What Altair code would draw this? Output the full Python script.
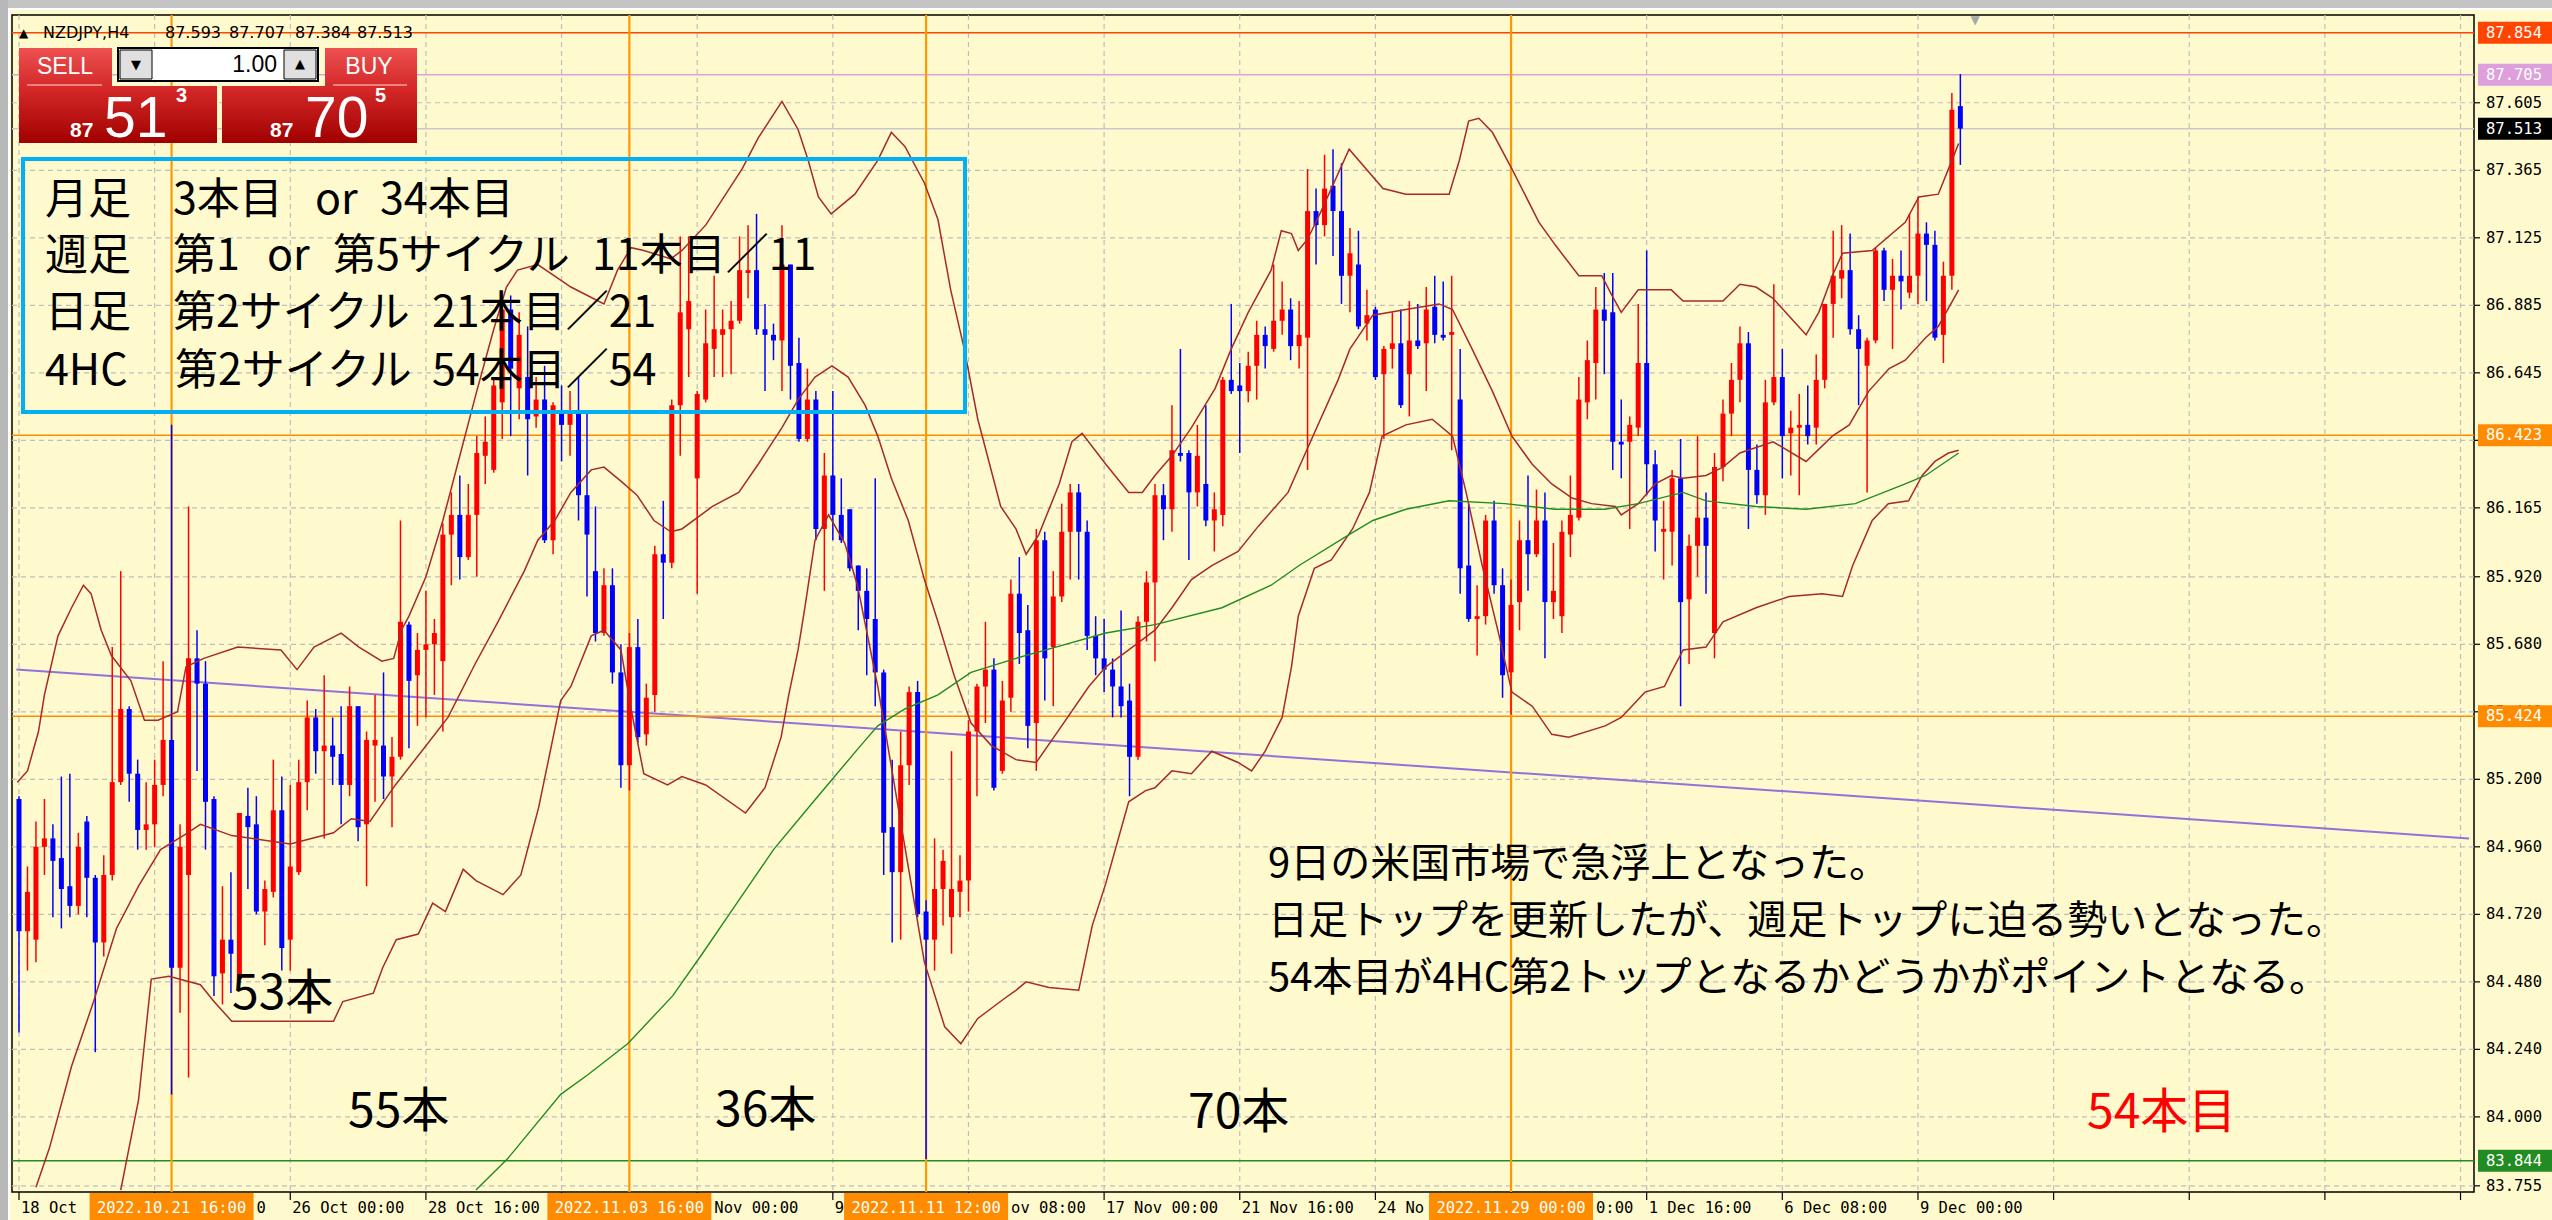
import altair as alt
import pandas as pd

# ---------------- data ----------------
opens = [
    85.13, 84.66, 84.63, 84.96, 84.99, 84.92, 84.82, 84.75, 85.05, 84.85,
    84.62, 84.86, 85.19, 85.45, 85.22, 85.02, 85.04, 85.18, 85.34, 84.53,
    84.86, 85.63, 85.54, 85.13, 84.51, 84.63, 84.49, 85.07, 85.04, 84.73,
    84.80, 85.09, 84.63, 84.87, 85.19, 85.42, 85.30, 85.32, 85.29, 85.18,
    85.46, 85.04, 85.32, 85.32, 85.21, 85.28, 85.75, 85.57, 85.66, 85.68,
    85.62, 86.07, 86.14, 85.99, 86.14, 86.35, 86.30, 86.54, 86.87, 86.59,
    86.63, 86.49, 86.55, 86.05, 86.50, 86.46, 86.50, 86.21, 85.94, 85.72,
    85.89, 85.58, 85.25, 85.67, 85.36, 85.50, 86.00, 85.97, 86.53, 86.80,
    86.27, 86.55, 86.73, 86.78, 86.80, 86.83, 87.00, 87.01, 86.80, 86.78,
    86.76, 87.03, 86.68, 86.41, 86.55, 86.09, 86.28, 86.14, 86.16, 85.96,
    85.87, 85.77, 85.58, 85.03, 84.87, 85.25, 85.51, 84.73, 84.63, 84.81,
    84.71, 84.80, 84.84, 85.37, 85.53, 85.59, 85.23, 85.49, 85.86, 85.73,
    85.40, 86.05, 85.67, 85.85, 86.08, 86.22, 86.08, 85.71, 85.63, 85.59,
    85.53, 85.48, 85.28, 85.76, 85.90, 86.21, 86.16, 86.36, 86.36, 86.22,
    86.25, 86.12, 86.14, 86.62, 86.60, 86.58, 86.67, 86.78, 86.73, 86.83,
    86.87, 86.74, 86.77, 87.22, 87.17, 87.31, 87.22, 86.99, 87.03, 86.82,
    86.87, 86.64, 86.73, 86.75, 86.64, 86.76, 86.75, 86.88, 86.78, 86.78,
    86.55, 85.96, 85.77, 85.78, 86.12, 85.89, 85.58, 85.83, 86.05, 86.00,
    86.12, 85.83, 85.78, 86.07, 86.13, 86.54, 86.68, 86.87, 86.86, 86.40,
    86.40, 86.45, 86.68, 86.32, 86.08, 86.08, 86.27, 85.84, 86.03, 86.13,
    85.72, 86.31, 86.50, 86.62, 86.75, 86.30, 86.21, 86.54, 86.63, 86.43,
    86.45, 86.46, 86.45, 86.62, 86.89, 86.98, 87.01, 86.80, 86.67, 86.76,
    87.08, 86.94, 86.99, 86.93, 86.99, 87.14, 87.10, 86.78, 86.99, 87.593,
]
highs = [
    85.14, 84.89, 85.05, 85.13, 85.04, 85.21, 85.22, 85.01, 85.07, 84.86,
    84.93, 85.67, 85.94, 85.46, 85.27, 85.19, 85.27, 85.62, 86.46, 85.04,
    86.17, 85.73, 85.62, 85.14, 84.82, 84.87, 85.08, 85.17, 85.14, 84.84,
    85.27, 85.21, 85.18, 85.27, 85.48, 85.45, 85.57, 85.42, 85.46, 85.53,
    85.46, 85.37, 85.50, 85.58, 85.35, 86.12, 85.76, 85.72, 85.87, 85.77,
    86.11, 86.22, 86.28, 86.25, 86.42, 86.49, 86.63, 86.90, 86.92, 86.86,
    86.81, 86.63, 86.67, 86.54, 86.60, 86.58, 86.63, 86.50, 86.17, 85.95,
    85.95, 85.68, 85.72, 85.77, 85.54, 86.03, 86.19, 86.55, 87.13, 87.13,
    86.58, 86.87, 86.99, 86.87, 86.90, 87.13, 87.17, 87.21, 86.89, 86.82,
    87.17, 87.03, 86.77, 86.66, 86.58, 86.36, 86.58, 86.27, 86.16, 85.96,
    85.95, 86.27, 85.59, 85.27, 85.37, 85.53, 85.55, 84.77, 84.99, 84.95,
    85.30, 84.93, 85.41, 85.54, 85.76, 85.63, 85.55, 85.91, 85.99, 85.82,
    86.09, 86.08, 85.94, 86.18, 86.25, 86.25, 86.12, 85.78, 85.77, 85.63,
    85.80, 85.54, 85.78, 85.94, 86.25, 86.25, 86.53, 86.73, 86.37, 86.46,
    86.53, 86.22, 86.63, 86.89, 86.68, 86.72, 86.83, 86.81, 87.03, 86.97,
    86.91, 86.90, 87.37, 87.30, 87.42, 87.44, 87.39, 87.16, 87.15, 86.94,
    86.88, 86.74, 86.86, 86.87, 86.90, 86.89, 86.95, 86.99, 86.97, 86.99,
    86.73, 86.18, 85.89, 86.14, 86.19, 85.95, 85.91, 86.12, 86.28, 86.23,
    86.22, 86.04, 86.12, 86.28, 86.63, 86.76, 86.95, 87.00, 87.00, 86.55,
    86.49, 86.89, 87.08, 86.37, 86.19, 86.30, 86.41, 86.07, 86.42, 86.22,
    86.36, 86.55, 86.68, 86.81, 86.79, 86.39, 86.62, 86.96, 86.73, 86.51,
    86.57, 86.60, 86.71, 86.89, 87.15, 87.17, 87.14, 86.85, 86.77, 87.09,
    87.09, 87.05, 87.08, 87.21, 87.27, 87.18, 87.15, 87.04, 87.64, 87.707,
]
lows = [
    84.30, 84.52, 84.55, 84.86, 84.71, 84.67, 84.71, 84.72, 84.71, 84.23,
    84.57, 84.84, 85.18, 85.12, 84.95, 84.95, 84.96, 85.14, 84.08, 84.37,
    84.14, 85.23, 84.95, 84.43, 84.40, 84.44, 84.48, 84.81, 84.72, 84.61,
    84.78, 84.52, 84.52, 84.86, 85.09, 85.22, 84.99, 85.18, 85.04, 85.14,
    84.98, 84.82, 85.12, 85.13, 85.03, 85.27, 85.31, 85.39, 85.42, 85.50,
    85.37, 85.89, 85.91, 85.98, 85.92, 86.25, 86.29, 86.41, 86.42, 86.48,
    86.28, 86.45, 86.04, 86.00, 86.33, 86.35, 86.12, 85.85, 85.69, 85.71,
    85.54, 85.17, 85.16, 85.33, 85.32, 85.44, 85.77, 85.95, 86.35, 86.63,
    85.86, 86.54, 86.63, 86.63, 86.64, 86.82, 86.91, 86.78, 86.58, 86.69,
    86.58, 86.55, 86.40, 86.40, 86.05, 85.87, 86.05, 86.04, 85.94, 85.73,
    85.57, 85.46, 84.86, 84.62, 84.63, 85.18, 84.71, 83.85, 84.52, 84.68,
    84.58, 84.71, 84.73, 85.14, 85.40, 85.16, 85.22, 85.44, 85.61, 85.31,
    85.23, 85.48, 85.46, 85.83, 85.91, 85.91, 85.66, 85.57, 85.51, 85.42,
    85.42, 85.14, 85.27, 85.69, 85.62, 86.05, 86.08, 86.33, 85.98, 86.17,
    86.10, 86.01, 86.10, 86.57, 86.36, 86.54, 86.55, 86.66, 86.72, 86.78,
    86.69, 86.66, 86.30, 87.03, 87.13, 87.06, 86.89, 86.86, 86.80, 86.76,
    86.62, 86.41, 86.66, 86.52, 86.49, 86.73, 86.58, 86.75, 86.76, 86.37,
    85.86, 85.76, 85.64, 85.75, 85.86, 85.49, 85.43, 85.73, 85.87, 85.99,
    85.63, 85.77, 85.72, 85.99, 86.12, 86.48, 86.55, 86.64, 86.30, 86.27,
    86.09, 86.42, 86.21, 86.01, 85.91, 85.96, 85.46, 85.61, 85.92, 85.86,
    85.63, 86.26, 86.42, 86.54, 86.09, 86.18, 86.14, 86.53, 86.27, 86.28,
    86.21, 86.39, 86.39, 86.59, 86.77, 86.91, 86.78, 86.53, 86.22, 86.75,
    86.90, 86.73, 86.87, 86.91, 86.89, 86.90, 86.76, 86.68, 86.94, 87.384,
]
closes = [
    84.66, 84.80, 84.96, 84.99, 84.91, 84.81, 84.75, 84.96, 84.85, 84.62,
    84.86, 85.19, 85.45, 85.22, 85.02, 85.04, 85.18, 85.34, 84.53, 84.96,
    85.63, 85.54, 85.12, 84.50, 84.63, 84.58, 85.08, 85.03, 84.73, 84.81,
    85.09, 84.60, 84.89, 85.19, 85.42, 85.30, 85.32, 85.28, 85.18, 85.46,
    85.03, 85.34, 85.34, 85.21, 85.28, 85.76, 85.55, 85.66, 85.68, 85.72,
    86.07, 86.14, 85.99, 86.14, 86.36, 86.40, 86.60, 86.87, 86.66, 86.78,
    86.48, 86.55, 86.05, 86.53, 86.46, 86.50, 86.21, 86.07, 85.72, 85.89,
    85.58, 85.25, 85.67, 85.35, 85.49, 86.00, 85.97, 86.53, 86.86, 86.90,
    86.57, 86.75, 86.80, 86.80, 86.83, 87.01, 87.01, 86.80, 86.78, 86.76,
    87.03, 86.67, 86.41, 86.55, 86.09, 86.28, 86.14, 86.05, 85.95, 85.87,
    85.77, 85.58, 85.01, 84.87, 85.25, 85.51, 84.72, 84.63, 84.81, 84.91,
    84.81, 84.84, 85.37, 85.53, 85.59, 85.17, 85.48, 85.86, 85.72, 85.39,
    86.05, 85.63, 85.85, 86.08, 86.22, 86.08, 85.71, 85.63, 85.59, 85.53,
    85.46, 85.28, 85.76, 85.90, 86.21, 86.16, 86.37, 86.35, 86.22, 86.35,
    86.12, 86.16, 86.62, 86.58, 86.58, 86.67, 86.78, 86.74, 86.83, 86.87,
    86.74, 86.78, 87.22, 87.17, 87.30, 87.22, 86.99, 87.07, 86.81, 86.85,
    86.63, 86.73, 86.75, 86.53, 86.76, 86.74, 86.87, 86.78, 86.77, 86.79,
    85.95, 85.77, 85.78, 86.12, 85.89, 85.57, 85.82, 86.05, 86.00, 86.12,
    85.83, 85.87, 86.08, 86.14, 86.55, 86.69, 86.87, 86.83, 86.40, 86.39,
    86.46, 86.68, 86.32, 86.12, 86.09, 86.27, 85.83, 86.03, 86.13, 86.03,
    86.31, 86.50, 86.62, 86.75, 86.30, 86.21, 86.54, 86.63, 86.42, 86.45,
    86.46, 86.42, 86.62, 86.89, 86.99, 87.01, 86.80, 86.73, 86.76, 87.08,
    86.94, 86.99, 86.97, 86.99, 87.14, 87.10, 86.77, 86.99, 87.58, 87.513,
]

bb_upper_i = [-0.2, 1.0, 2.3, 3.0, 4.6, 6.2, 7.6, 8.5, 9.7, 10.9, 13.2, 14.8, 16.4, 18.7, 19.7, 21.8, 25.8,
              30.9, 32.8, 34.8, 38.0, 40.1, 42.8, 44.2, 45.1, 46.0, 48.0, 50.0, 52.0, 54.0, 56.0, 57.5,
              58.8, 61.2, 65.1, 69.0, 70.6, 72.2, 73.7, 76.9, 78.2, 81.0, 85.3, 87.2, 90.0, 91.9, 93.1,
              94.3, 95.8, 98.6, 101.3, 102.9, 104.5, 106.8, 108.4, 109.9, 111.5, 113.1, 115.8, 117.6,
              118.8, 120.3, 122.7, 124.2, 125.4, 128.2, 130.9, 132.5, 134.0, 136.0, 138.3, 141.1, 143.0,
              145.0, 147.7, 148.9, 150.1, 150.9, 152.0, 153.6, 156.9, 160.9, 163.6, 168.7, 169.9, 171.0,
              172.2, 173.8, 176.1, 179.3, 181.2, 184.0, 186.7, 187.9, 189.0, 191.0, 194.9, 196.3, 199.0,
              201.0, 203.0, 204.9, 206.9, 210.8, 212.3, 213.9, 215.1, 218.6, 222.5, 224.1, 226.4, 227.6,
              228.8]
bb_upper_p = [85.19, 85.23, 85.37, 85.50, 85.71, 85.81, 85.89, 85.86, 85.73, 85.64, 85.55, 85.41, 85.41,
              85.44, 85.60, 85.63, 85.67, 85.66, 85.59, 85.67, 85.72, 85.67, 85.62, 85.63, 85.73, 85.78,
              85.92, 86.12, 86.35, 86.58, 86.80, 86.95, 87.01, 87.03, 86.95, 86.89, 87.01, 87.09, 87.08,
              87.05, 87.08, 87.17, 87.37, 87.48, 87.61, 87.51, 87.40, 87.27, 87.21, 87.28, 87.40, 87.50,
              87.45, 87.32, 87.19, 86.94, 86.73, 86.48, 86.17, 86.09, 86.00, 86.07, 86.25, 86.40, 86.43,
              86.32, 86.22, 86.22, 86.28, 86.35, 86.45, 86.59, 86.73, 86.86, 87.01, 87.15, 87.14, 87.08,
              87.12, 87.22, 87.44, 87.30, 87.28, 87.28, 87.40, 87.54, 87.55, 87.50, 87.37, 87.18, 87.10,
              86.99, 86.99, 86.92, 86.86, 86.94, 86.94, 86.90, 86.90, 86.90, 86.96, 86.95, 86.91, 86.78,
              86.86, 86.99, 87.07, 87.08, 87.18, 87.27, 87.28, 87.37, 87.46]

bb_mid_i = [2.0, 3.6, 6.2, 8.8, 11.5, 14.1, 16.7, 19.9, 21.4, 25.1, 32.0, 37.1, 39.2, 41.4, 44.4, 47.5, 50.6,
            53.8, 56.5, 59.6, 61.2, 63.2, 65.1, 67.5, 69.0, 71.0, 72.9, 74.9, 76.9, 78.2, 81.8, 84.9, 87.2,
            90.0, 91.9, 93.9, 95.9, 97.8, 99.8, 101.3, 102.9, 104.9, 106.8, 108.4, 110.3, 112.3, 114.7,
            117.6, 120.0, 122.3, 126.2, 128.2, 130.9, 134.0, 136.0, 138.3, 140.7, 143.8, 146.2, 149.7,
            151.6, 155.6, 157.0, 159.7, 163.6, 167.5, 169.1, 171.4, 173.8, 176.1, 178.5, 180.8, 183.2,
            185.5, 188.3, 189.0, 191.0, 193.0, 194.9, 196.3, 199.0, 201.0, 203.0, 206.9, 210.8, 213.9,
            215.9, 218.2, 220.6, 222.5, 224.9, 226.4, 228.8]
bb_mid_p = [83.75, 83.89, 84.18, 84.41, 84.67, 84.82, 84.95, 85.01, 85.04, 85.00, 84.97, 85.01, 85.06, 85.05,
            85.18, 85.30, 85.42, 85.61, 85.76, 85.94, 86.05, 86.12, 86.22, 86.30, 86.31, 86.26, 86.21,
            86.12, 86.08, 86.09, 86.17, 86.22, 86.32, 86.45, 86.55, 86.63, 86.67, 86.63, 86.53, 86.42,
            86.27, 86.12, 85.91, 85.76, 85.57, 85.40, 85.32, 85.27, 85.26, 85.36, 85.53, 85.60, 85.66,
            85.73, 85.81, 85.91, 85.96, 86.01, 86.10, 86.22, 86.35, 86.62, 86.73, 86.85, 86.87, 86.89,
            86.87, 86.73, 86.58, 86.42, 86.32, 86.25, 86.20, 86.18, 86.17, 86.14, 86.18, 86.25, 86.28,
            86.27, 86.28, 86.31, 86.36, 86.40, 86.33, 86.42, 86.46, 86.58, 86.66, 86.69, 86.77, 86.81,
            86.94]

bb_low_i = [12.0, 14.1, 15.6, 17.7, 21.4, 23.0, 25.1, 30.9, 37.1, 38.2, 41.8, 42.9, 44.5, 47.1, 48.8, 50.3,
            52.4, 53.9, 57.1, 59.2, 61.3, 63.9, 65.1, 67.5, 69.0, 71.0, 72.2, 73.7, 76.5, 78.2, 81.0, 85.7,
            88.0, 89.9, 90.8, 91.9, 92.7, 93.9, 95.5, 97.4, 98.9, 101.3, 104.5, 106.8, 109.2, 111.1, 113.1,
            116.2, 117.6, 118.8, 121.5, 125.0, 126.6, 128.2, 130.9, 132.9, 134.0, 136.0, 138.3, 140.7,
            143.8, 145.4, 147.0, 149.0, 150.1, 150.9, 152.8, 154.8, 157.3, 159.3, 160.8, 163.6, 166.7,
            169.1, 170.7, 172.6, 174.6, 176.1, 178.5, 180.8, 182.8, 187.1, 189.0, 191.8, 194.1, 194.9,
            196.3, 199.0, 201.0, 204.9, 208.8, 212.7, 215.1, 216.3, 218.6, 220.5, 222.9, 224.5, 226.0,
            227.6, 228.8]
bb_low_p = [83.74, 84.06, 84.49, 84.50, 84.47, 84.41, 84.34, 84.34, 84.34, 84.41, 84.44, 84.53, 84.63, 84.65,
            84.76, 84.73, 84.88, 84.84, 84.79, 84.86, 85.10, 85.48, 85.53, 85.71, 85.73, 85.66, 85.45,
            85.22, 85.18, 85.21, 85.18, 85.08, 85.17, 85.35, 85.50, 85.66, 85.81, 86.05, 86.14, 86.04,
            85.89, 85.53, 84.96, 84.55, 84.32, 84.26, 84.35, 84.42, 84.45, 84.48, 84.46, 84.45, 84.68,
            84.83, 85.12, 85.16, 85.17, 85.23, 85.22, 85.30, 85.26, 85.23, 85.30, 85.42, 85.60, 85.78,
            85.95, 85.98, 86.09, 86.22, 86.42, 86.46, 86.48, 86.42, 86.22, 85.96, 85.71, 85.51, 85.46,
            85.36, 85.35, 85.39, 85.42, 85.51, 85.53, 85.58, 85.66, 85.67, 85.76, 85.81, 85.85, 85.86,
            85.85, 85.96, 86.12, 86.18, 86.19, 86.28, 86.33, 86.36, 86.37]

ma_i = [53.9, 57.6, 63.9, 67.1, 71.8, 77.1, 80.6, 84.9, 89.0, 93.7, 99.0, 101.3, 104.5, 108.4, 112.3, 117.6,
        122.3, 128.2, 134.0, 141.9, 147.7, 151.0, 156.9, 159.7, 163.6, 168.7, 175.3, 181.2, 187.1, 191.0,
        196.3, 199.0, 204.9, 210.8, 216.6, 222.5, 224.9, 228.8]
ma_p = [83.74, 83.85, 84.08, 84.15, 84.26, 84.43, 84.58, 84.77, 84.95, 85.12, 85.31, 85.39, 85.45, 85.50,
        85.58, 85.63, 85.67, 85.72, 85.75, 85.81, 85.89, 85.96, 86.07, 86.12, 86.16, 86.19, 86.18, 86.16,
        86.16, 86.18, 86.22, 86.19, 86.17, 86.16, 86.18, 86.25, 86.28, 86.36]

trend_i = [-0.3, 289.0]
trend_p = [85.59, 84.99]

vline_idx = [18, 72, 107, 176]
vline_labels = ["2022.10.21 16:00", "2022.11.03 16:00", "2022.11.11 12:00", "2022.11.29 00:00"]
# parts of the ordinary time labels that peek out to the right of each highlighted date
vline_tail_labels = ["0", "Nov 00:00", "ov 08:00", "0:00"]

# visible time-axis labels (those cut by the highlighted dates show only their visible part)
date_tick_idx = [0, 32, 48, 96, 128, 144, 160, 192, 208, 224]
date_tick_labels = ["18 Oct", "26 Oct 00:00", "28 Oct 16:00", "9", "17 Nov 00:00", "21 Nov 16:00",
                    "24 No", "1 Dec 16:00", "6 Dec 08:00", "9 Dec 00:00"]
grid_idx = list(range(0, 289, 16))

price_ticks = [87.605, 87.365, 87.125, 86.885, 86.645, 86.405, 86.165, 85.920, 85.680, 85.440,
               85.200, 84.960, 84.720, 84.480, 84.240, 84.000, 83.755]

level_prices = [87.854, 87.705, 87.513, 86.423, 85.424, 83.844]
level_line_colors = ["#FF4500", "#DDA0DD", "#C8C8C8", "#FF8C00", "#FF8C00", "#228B22"]
level_box_colors = ["#FF4500", "#DDA0DD", "#000000", "#FF8C00", "#FF8C00", "#228B22"]

header_texts = [("NZDJPY,H4", 43), ("87.593", 165), ("87.707", 229), ("87.384", 295), ("87.513", 357)]

box_col1 = ["月足", "週足", "日足", "4HC"]
box_segments = [
    [("3本目", 173), ("or", 315), ("34本目", 380)],
    [("第1", 173), ("or", 267), ("第5サイクル", 333), ("11本目／11", 592)],
    [("第2サイクル", 173), ("21本目／21", 432)],
    [("第2サイクル", 175), ("54本目／54", 432)],
]
note_lines = ["9日の米国市場で急浮上となった。",
              "日足トップを更新したが、週足トップに迫る勢いとなった。",
              "54本目が4HC第2トップとなるかどうかがポイントとなる。"]
count_labels = [("53本", 232, 995, "#000000"), ("55本", 348, 1113, "#000000"),
                ("36本", 715, 1112, "#000000"), ("70本", 1188, 1114, "#000000"),
                ("54本目", 2087, 1114, "#FF0000")]

# ---------------- layout ----------------
W, H = 2462, 1177
PAD = {"left": 12, "top": 15, "right": 78, "bottom": 28}
X_DOMAIN = [-0.235, 289.0]
Y_DOMAIN = [83.733, 87.917]
BG = "#FFFACD"
GRID = "#BEBEBE"
JP = "Noto Sans CJK JP"
MONO = "DejaVu Sans Mono"
SANS = "Liberation Sans"

xs = alt.Scale(domain=X_DOMAIN, nice=False, zero=False)
ys = alt.Scale(domain=Y_DOMAIN, nice=False, zero=False)
ONE = pd.DataFrame({"k": [0]})


def XQ(f="i"):
    return alt.X(f"{f}:Q", scale=xs, axis=None)


def YQ(f="p"):
    return alt.Y(f"{f}:Q", scale=ys, axis=None)


def fx(x):
    return x - PAD["left"]


def fy(y):
    return y - PAD["top"]


def prect(x1, y1, x2, y2, **kw):
    return alt.Chart(ONE).mark_rect(**kw).encode(
        x=alt.value(fx(x1)), x2=alt.value(fx(x2)), y=alt.value(fy(y1)), y2=alt.value(fy(y2)))


def ptext(s, x, y, size, color="#000000", font=JP, align="left", baseline="middle", weight="normal"):
    return alt.Chart(pd.DataFrame({"t": [s]})).mark_text(
        font=font, fontSize=size, color=color, align=align, baseline=baseline, fontWeight=weight
    ).encode(x=alt.value(fx(x)), y=alt.value(fy(y)), text="t:N")


def grad(c1, c2):
    return alt.Gradient(gradient="linear",
                        stops=[alt.GradientStop(color=c1, offset=0), alt.GradientStop(color=c2, offset=1)],
                        x1=0, x2=0, y1=0, y2=1)


def series(idx, vals, color, width):
    df = pd.DataFrame(list(zip(idx, vals)), columns=["i", "p"])
    return alt.Chart(df).mark_line(color=color, strokeWidth=width, clip=True).encode(x=XQ(), y=YQ())


bars = pd.DataFrame(list(zip(range(len(opens)), opens, highs, lows, closes)),
                    columns=["i", "o", "h", "l", "c"])
updown = alt.condition("datum.c >= datum.o", alt.value("#FF0000"), alt.value("#0000FF"))

ptick_df = pd.DataFrame({"p": price_ticks})
grid_df = pd.DataFrame({"i": grid_idx})
dlab_df = pd.DataFrame(list(zip(date_tick_idx, date_tick_labels)), columns=["i", "t"])

layers = []

# window frame
layers.append(prect(0, 0, 2552, 8, color="#C4C4C4"))
layers.append(prect(0, 8, 2552, 10, color="#FFFFFF"))
layers.append(prect(0, 0, 8, 1220, color="#B8B8B8"))
layers.append(prect(8, 8, 10, 1220, color="#FFFFFF"))

# grid (price scale + time scale)
layers.append(alt.Chart(ptick_df).mark_rule(color=GRID, strokeDash=[5, 4], strokeWidth=1.2).encode(y=YQ()))
layers.append(alt.Chart(grid_df).mark_rule(color=GRID, strokeDash=[5, 4], strokeWidth=1.2).encode(x=XQ()))

# right price axis: ticks + labels
layers.append(alt.Chart(ptick_df).mark_rule(color="#000000", strokeWidth=1.2).encode(
    y=YQ(), x=alt.value(W), x2=alt.value(W + 6)))
layers.append(alt.Chart(ptick_df).mark_text(font=MONO, fontSize=15.5, color="#000000", align="left").encode(
    y=YQ(), x=alt.value(W + 12), text=alt.Text("p:Q", format=".3f")))

# bottom time axis: ticks + labels
layers.append(alt.Chart(grid_df).mark_rule(color="#000000", strokeWidth=1.2).encode(
    x=XQ(), y=alt.value(H), y2=alt.value(H + 8)))
layers.append(alt.Chart(dlab_df).mark_text(font=MONO, fontSize=15.5, color="#000000", align="left", dx=2).encode(
    x=XQ(), y=alt.value(H + 16), text="t:N"))

# trend line, horizontal level lines, vertical lines
layers.append(series(trend_i, trend_p, "#9370DB", 2))
levels = pd.DataFrame({"p": level_prices, "lc": level_line_colors, "bc": level_box_colors})
layers.append(alt.Chart(levels).mark_rule(strokeWidth=1.5).encode(
    y=YQ(), color=alt.Color("lc:N", scale=None)))
vdf = pd.DataFrame({"i": vline_idx, "t": vline_labels, "tail": vline_tail_labels})
layers.append(alt.Chart(vdf).mark_rule(color="#FF9900", strokeWidth=2.2).encode(x=XQ()))

# candles
layers.append(alt.Chart(bars).mark_rule(strokeWidth=1.5).encode(
    x=XQ(), y=YQ("l"), y2="h:Q", color=updown))
layers.append(alt.Chart(bars).mark_bar(size=5).encode(
    x=XQ(), y=YQ("o"), y2="c:Q", color=updown))

# indicators
layers.append(series(bb_upper_i, bb_upper_p, "#A52A2A", 1.5))
layers.append(series(bb_mid_i, bb_mid_p, "#A52A2A", 1.5))
layers.append(series(bb_low_i, bb_low_p, "#A52A2A", 1.5))
layers.append(series(ma_i, ma_p, "#228B22", 1.4))

# blue info box
layers.append(prect(23, 159, 965, 412, fillOpacity=0, stroke="#00B0F0", strokeWidth=4))
row_y = [201, 257, 314, 372]
for lab, yy in zip(box_col1, row_y):
    layers.append(ptext(lab, 45, yy, 43))
for segs, yy in zip(box_segments, row_y):
    for s, xx in segs:
        layers.append(ptext(s, xx, yy, 43))

# annotations
for s, xx, yy, col in count_labels:
    layers.append(ptext(s, xx, yy, 48, color=col))
for s, yy in zip(note_lines, [865, 922, 979]):
    layers.append(ptext(s, 1268, yy, 40))

# one-click trading panel
layers.append(prect(19, 48, 112, 86, fill=grad("#EE5050", "#D42A2A")))
layers.append(prect(19, 86, 217, 143, fill=grad("#D82A2A", "#A00000")))
layers.append(prect(325, 48, 417, 86, fill=grad("#EE5050", "#D42A2A")))
layers.append(prect(222, 86, 417, 143, fill=grad("#D82A2A", "#A00000")))
layers.append(prect(27, 84, 102, 86, color="#F08080"))
layers.append(prect(333, 84, 407, 86, color="#F08080"))
layers.append(prect(118, 48, 318, 81, fill="#FFFFFF", stroke="#000000", strokeWidth=2))
layers.append(prect(120, 50, 152, 79, fill="#E0E0E0", stroke="#000000", strokeWidth=1))
layers.append(prect(284, 50, 316, 79, fill="#E0E0E0", stroke="#000000", strokeWidth=1))
layers.append(ptext("▼", 136, 65, 13, align="center", font="DejaVu Sans"))
layers.append(ptext("▲", 300, 64, 13, align="center", font="DejaVu Sans"))
layers.append(ptext("1.00", 277, 65, 23, align="right", font=SANS))
layers.append(ptext("SELL", 65, 67, 23, color="#FFFFFF", align="center", font=SANS))
layers.append(ptext("BUY", 369, 67, 23, color="#FFFFFF", align="center", font=SANS))
layers.append(ptext("87", 70, 137, 21, color="#FFFFFF", font=SANS, baseline="alphabetic", weight="bold"))
layers.append(ptext("51", 104, 137, 57, color="#FFFFFF", font=SANS, baseline="alphabetic"))
layers.append(ptext("3", 176, 102, 20, color="#FFFFFF", font=SANS, baseline="alphabetic", weight="bold"))
layers.append(ptext("87", 270, 137, 21, color="#FFFFFF", font=SANS, baseline="alphabetic", weight="bold"))
layers.append(ptext("70", 305, 137, 57, color="#FFFFFF", font=SANS, baseline="alphabetic"))
layers.append(ptext("5", 375, 102, 20, color="#FFFFFF", font=SANS, baseline="alphabetic", weight="bold"))

# header
layers.append(ptext("▲", 19, 33, 12, font="DejaVu Sans"))
for s, xx in header_texts:
    layers.append(ptext(s, xx, 33, 16, font="DejaVu Sans"))
layers.append(ptext("▼", 1975, 20, 12, color="#A8A8A8", align="center", font="DejaVu Sans"))

# right-axis price boxes
layers.append(alt.Chart(levels).mark_point(
    shape="M-1,-0.297L1,-0.297L1,0.297L-1,0.297Z", size=74 ** 2, filled=True, opacity=1).encode(
    x=alt.value(W + 41), y=YQ(), color=alt.Color("bc:N", scale=None)))
layers.append(alt.Chart(levels).mark_text(font=MONO, fontSize=15.5, color="#FFFFFF", align="left").encode(
    x=alt.value(W + 12), y=YQ(), text=alt.Text("p:Q", format=".3f")))

# bottom-axis highlighted dates (+ the visible tails of the labels they cover)
layers.append(alt.Chart(vdf).mark_point(
    shape="M-1,-0.165L1,-0.165L1,0.165L-1,0.165Z", size=164 ** 2, filled=True, opacity=1,
    color="#FF8C00").encode(x=XQ(), y=alt.value(H + 14.5)))
layers.append(alt.Chart(vdf).mark_text(font=MONO, fontSize=15.5, color="#FFFFFF").encode(
    x=XQ(), y=alt.value(H + 16), text="t:N"))
layers.append(alt.Chart(vdf).mark_text(font=MONO, fontSize=15.5, color="#000000", align="left", dx=85).encode(
    x=XQ(), y=alt.value(H + 16), text="tail:N"))

chart = alt.layer(*layers).properties(
    width=W, height=H, padding=PAD, autosize=alt.AutoSizeParams(type="none"), background=BG
).configure_view(stroke="#000000", strokeWidth=1.5, fill=BG)

chart.save("out.html", embed_options={"renderer": "svg", "actions": False})
